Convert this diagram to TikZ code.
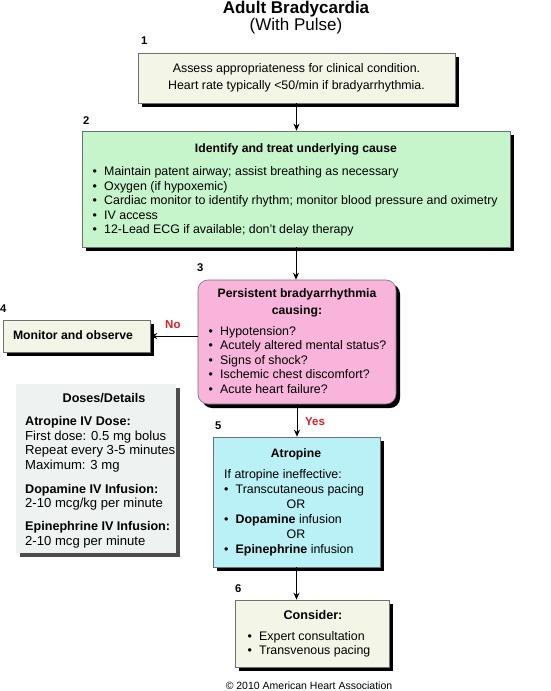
\documentclass[tikz,border=0pt]{standalone}
\usepackage{fontspec}
\setmainfont{Liberation Sans}
\usetikzlibrary{shadows,arrows.meta}
\definecolor{creamfill}{HTML}{F3F6E6}
\definecolor{greenfill}{HTML}{C6F4CB}
\definecolor{pinkfill}{HTML}{F9B4DB}
\definecolor{cyanfill}{HTML}{B9F1F6}
\definecolor{dosefill}{HTML}{EEF2F1}
\definecolor{boxline}{HTML}{707070}
\definecolor{ahared}{HTML}{E41B23}
\newcommand{\bl}{\makebox[11.5pt][l]{\textbullet}}
\newcommand{\fr}{\rule{0pt}{10pt}}
\newcommand{\dbf}[1]{{\fontsize{12.6}{14.5}\selectfont\bfseries #1}}
\tikzset{
  box/.style={draw=boxline, line width=0.6pt, inner sep=0pt,
    general shadow={fill=black, shadow xshift=4pt, shadow yshift=-4pt}},
  dosebox/.style={fill=dosefill, inner sep=0pt,
    general shadow={fill=black!70, shadow xshift=4pt, shadow yshift=-4pt}},
  txt/.style={inner sep=0pt, font=\fontsize{12.4}{14.5}\selectfont},
  btxt/.style={txt, font=\fontsize{12.2}{14.5}\selectfont\bfseries},
  numlbl/.style={inner sep=0pt, anchor=base west, font=\fontsize{11.2}{13}\selectfont\bfseries},
  ynlbl/.style={inner sep=0pt, anchor=base west, text=ahared, font=\fontsize{11.5}{13}\selectfont\bfseries},
  flow/.style={line width=1pt, -{Stealth[length=7pt,width=6pt]}},
}
\begin{document}
\begin{tikzpicture}[x=1pt,y=-1pt]
\useasboundingbox (0,0) rectangle (550,691);
% title
\node[inner sep=0pt, anchor=base, font=\fontsize{17}{20}\selectfont\bfseries] (t1) at (296,13.5) {Adult Bradycardia};
\node[inner sep=0pt, anchor=base, font=\fontsize{17}{20}\selectfont] (t2) at (296,30) {(With Pulse)};
% boxes
\node[box, fill=creamfill, minimum width=317pt, minimum height=50pt] (b1) at (296.5,78) {};
\node[box, fill=greenfill, minimum width=428pt, minimum height=116pt] (b2) at (296,189) {};
\node[box, fill=pinkfill, rounded corners=10pt, minimum width=198pt, minimum height=124pt] (b3) at (297,342) {};
\node[box, fill=creamfill, minimum width=147pt, minimum height=32pt] (b4) at (76.5,336) {};
\node[dosebox, minimum width=160pt, minimum height=169pt] (bd) at (96,468.5) {};
\node[box, fill=cyanfill, minimum width=167pt, minimum height=130pt] (b5) at (296.5,502) {};
\node[box, fill=creamfill, minimum width=154pt, minimum height=67pt] (b6) at (312,633.5) {};
% step numbers
\node[numlbl] (n1) at (141,44) {1};
\node[numlbl] (n2) at (83,124) {2};
\node[numlbl] (n3) at (197,271) {3};
\node[numlbl] (n4) at (0,312) {4};
\node[numlbl] (n5) at (215,429) {5};
\node[numlbl] (n6) at (235,592) {6};
% box 1 text
\node[txt, align=center, anchor=north, font=\fontsize{12.4}{17}\selectfont] (x1) at (296.5,62.5) {\fr Assess appropriateness for clinical condition.\\Heart rate typically <50/min if bradyarrhythmia.};
% box 2 text
\node[btxt, anchor=base] (x2t) at (296,152.5) {Identify and treat underlying cause};
\node[txt, align=left, anchor=north west] (x2) at (92.5,165.5) {\fr\bl Maintain patent airway; assist breathing as necessary\\
\bl Oxygen (if hypoxemic)\\
\bl Cardiac monitor to identify rhythm; monitor blood pressure and oximetry\\
\bl IV access\\
\bl 12-Lead ECG if available; don’t delay therapy};
% box 3 text
\node[btxt, align=center, anchor=north, font=\fontsize{12.2}{16.5}\selectfont\bfseries] (x3t) at (297,287.5) {\fr Persistent bradyarrhythmia\\causing:};
\node[txt, align=left, anchor=north west] (x3) at (208.5,325) {\fr\bl Hypotension?\\
\bl Acutely altered mental status?\\
\bl Signs of shock?\\
\bl Ischemic chest discomfort?\\
\bl Acute heart failure?};
% box 4 text
\node[btxt, anchor=base] (x4) at (73,339.5) {Monitor and observe};
% doses text
\node[btxt, anchor=base, font=\fontsize{12.6}{14.5}\selectfont\bfseries] (xdt) at (104,402.5) {Doses/Details};
\node[txt, align=left, anchor=north west, font=\fontsize{13.1}{14.5}\selectfont] (xd) at (25,415.5) {\fr\dbf{Atropine IV Dose:}\\
First dose: 0.5 mg bolus\\
Repeat every 3-5 minutes\\
Maximum: 3 mg\\[9.5pt]
\dbf{Dopamine IV Infusion:}\\
2-10 mcg/kg per minute\\[8.5pt]
\dbf{Epinephrine IV Infusion:}\\
2-10 mcg per minute};
% box 5 text
\node[btxt, anchor=base] (x5t) at (296,457.5) {Atropine};
\node[txt, align=left, anchor=north west, font=\fontsize{12.4}{15}\selectfont] (x5) at (224,468.5) {\fr If atropine ineffective:\\
\bl Transcutaneous pacing\\
\hspace*{62.5pt}OR\\
\bl\textbf{Dopamine} infusion\\
\hspace*{62.5pt}OR\\
\bl\textbf{Epinephrine} infusion};
% box 6 text
\node[btxt, anchor=base, font=\fontsize{12.6}{14.5}\selectfont\bfseries] (x6t) at (313,619.5) {Consider:};
\node[txt, align=left, anchor=north west, font=\fontsize{12.4}{14}\selectfont] (x6) at (247.5,630.5) {\fr\bl Expert consultation\\
\bl Transvenous pacing};
% connectors
\draw[flow] (b1.south) -- (b1.south |- b2.north);
\draw[flow] (b2.south) -- (b2.south |- b3.north);
\draw[flow] (b3.west |- b4.east) -- (b4.east);
\draw[flow] (b3.south) -- (b3.south |- b5.north);
\draw[flow] (b5.south) -- (b5.south |- b6.north);
\node[ynlbl] (no) at (165,328) {No};
\node[ynlbl] (yes) at (305,425) {Yes};
% copyright
\node[inner sep=0pt, anchor=base, font=\fontsize{10.5}{12}\selectfont] (cp) at (309,689) {© 2010 American Heart Association};
\end{tikzpicture}
\end{document}
